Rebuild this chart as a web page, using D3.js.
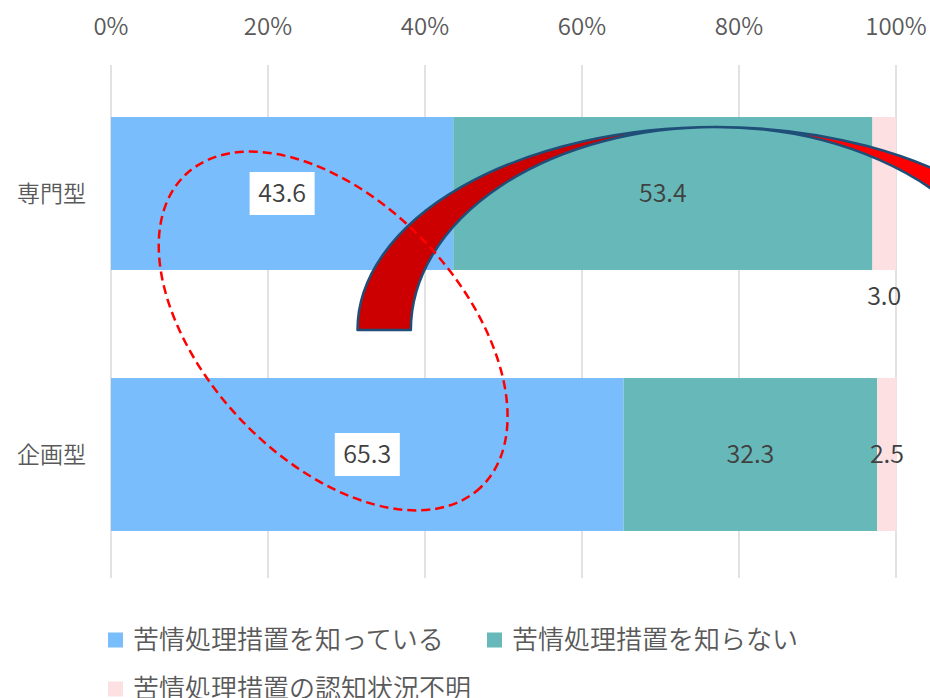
<!DOCTYPE html>
<html>
<head>
<meta charset="utf-8">
<script src="https://cdn.jsdelivr.net/npm/d3@7"></script>
<style>
  body { margin: 0; background: #fff; }
  svg { display: block; font-family: "Noto Sans CJK JP", "Noto Sans", sans-serif; font-weight: 350; }
</style>
</head>
<body>
<script>
// chart data
var categories = ["専門型", "企画型"];
var seriesNames = ["苦情処理措置を知っている", "苦情処理措置を知らない", "苦情処理措置の認知状況不明"];
var know    = [43.6, 65.3];
var notKnow = [53.4, 32.3];
var unknown = [3.0, 2.5];
var tickValues = [0, 20, 40, 60, 80, 100];

var colors = ["#79bdfd", "#67b9b9", "#fde0e2"];

var width = 930, height = 698;

var svg = d3.select("body").append("svg")
    .attr("width", width)
    .attr("height", height);

var x = d3.scaleLinear().domain([0, 100]).range([111, 896]);
var y = d3.scaleBand().domain(categories).range([63, 585]).paddingInner(0.414).paddingOuter(0.207);

// stack the three series
var rows = categories.map(function(c, i) {
    return {cat: c, s0: know[i], s1: notKnow[i], s2: unknown[i]};
});
var stack = d3.stack().keys(["s0", "s1", "s2"]);
var series = stack(rows);

// gridlines
svg.append("g").selectAll("line")
    .data(tickValues)
  .enter().append("line")
    .attr("x1", function(d) { return x(d); })
    .attr("x2", function(d) { return x(d); })
    .attr("y1", 65)
    .attr("y2", 578)
    .attr("stroke", "#d9d9d9")
    .attr("stroke-width", 1.5);

// top axis labels
svg.append("g").selectAll("text")
    .data(tickValues)
  .enter().append("text")
    .attr("x", function(d) { return x(d); })
    .attr("y", 27)
    .attr("dy", "0.35em")
    .attr("text-anchor", "middle")
    .attr("fill", "#595959")
    .style("font-size", "24px")
    .text(function(d) { return d + "%"; });

// category labels
svg.append("g").selectAll("text")
    .data(categories)
  .enter().append("text")
    .attr("x", 86)
    .attr("y", function(d) { return y(d) + y.bandwidth() / 2; })
    .attr("dy", "0.35em")
    .attr("text-anchor", "end")
    .attr("fill", "#595959")
    .style("font-size", "23px")
    .text(function(d) { return d; });

// bars
var layer = svg.append("g").selectAll("g")
    .data(series)
  .enter().append("g")
    .attr("fill", function(d, i) { return colors[i]; });

layer.selectAll("rect")
    .data(function(d) { return d; })
  .enter().append("rect")
    .attr("x", function(d) { return x(d[0]); })
    .attr("y", function(d) { return y(d.data.cat); })
    .attr("width", function(d) { return x(d[1]) - x(d[0]); })
    .attr("height", y.bandwidth());

// data labels
var labels = [];
series.forEach(function(s, si) {
    s.forEach(function(d) {
        labels.push({si: si, cat: d.data.cat, v: d[1] - d[0], cx: (x(d[0]) + x(d[1])) / 2});
    });
});

var lab = svg.append("g").selectAll("g")
    .data(labels)
  .enter().append("g")
    .attr("transform", function(d) {
        var cy = y(d.cat) + y.bandwidth() / 2;
        // the 3.0 label sits under the first bar
        if (d.si == 2 && d.cat == categories[0]) cy = y(d.cat) + y.bandwidth() + 26;
        return "translate(" + d.cx + "," + cy + ")";
    });

lab.filter(function(d) { return d.si == 0; })
  .append("rect")
    .attr("x", -32.5)
    .attr("y", -21.5)
    .attr("width", 65)
    .attr("height", 43)
    .attr("fill", "#fff");

lab.append("text")
    .attr("dy", "0.35em")
    .attr("text-anchor", "middle")
    .attr("fill", "#404040")
    .style("font-size", "25px")
    .text(function(d) { return d3.format(".1f")(d.v); });

// curved arrow annotation (block arc, head is outside the picture)
var peakX = x(77), peakY = 127, baseY = 330;
var outerR = peakX - x(31.4), innerL = peakX - x(38.2), innerR = 300, ry = baseY - peakY;
var endX = 990;
function onArc(rx, px) {
    var dx = px - peakX;
    return baseY - ry * Math.sqrt(Math.max(0, 1 - (dx * dx) / (rx * rx)));
}
var arrow = svg.append("g")
    .attr("stroke", "#1f4e79")
    .attr("stroke-width", 2.5)
    .attr("stroke-linejoin", "round");

arrow.append("path")
    .attr("fill", "#ff0000")
    .attr("d", "M" + peakX + "," + peakY +
        " A" + outerR + "," + ry + " 0 0 1 " + endX + "," + onArc(outerR, endX) +
        " L" + endX + "," + onArc(innerR, endX) +
        " A" + innerR + "," + ry + " 0 0 0 " + peakX + "," + peakY + " Z");

arrow.append("path")
    .attr("fill", "#cc0000")
    .attr("d", "M" + (peakX - outerR) + "," + baseY +
        " A" + outerR + "," + ry + " 0 0 1 " + peakX + "," + peakY +
        " A" + innerL + "," + ry + " 0 0 0 " + (peakX - innerL) + "," + baseY + " Z");

// dashed ellipse around the "know" values
svg.append("ellipse")
    .attr("cx", 0)
    .attr("cy", 0)
    .attr("rx", 215)
    .attr("ry", 128)
    .attr("transform", "translate(" + x(28.3) + ",331) rotate(46.7)")
    .attr("fill", "none")
    .attr("stroke", "#ff0000")
    .attr("stroke-width", 2.5)
    .attr("stroke-dasharray", "9,5");

// legend
var legendPos = [[108, 640], [487, 640], [108, 689]];
var leg = svg.append("g").selectAll("g")
    .data(seriesNames)
  .enter().append("g")
    .attr("transform", function(d, i) { return "translate(" + legendPos[i][0] + "," + legendPos[i][1] + ")"; });

leg.append("rect")
    .attr("x", 0)
    .attr("y", -7.5)
    .attr("width", 15)
    .attr("height", 15)
    .attr("fill", function(d, i) { return colors[i]; });

leg.append("text")
    .attr("x", 25)
    .attr("dy", "0.35em")
    .attr("fill", "#595959")
    .style("font-size", "26px")
    .text(function(d) { return d; });
</script>
</body>
</html>
